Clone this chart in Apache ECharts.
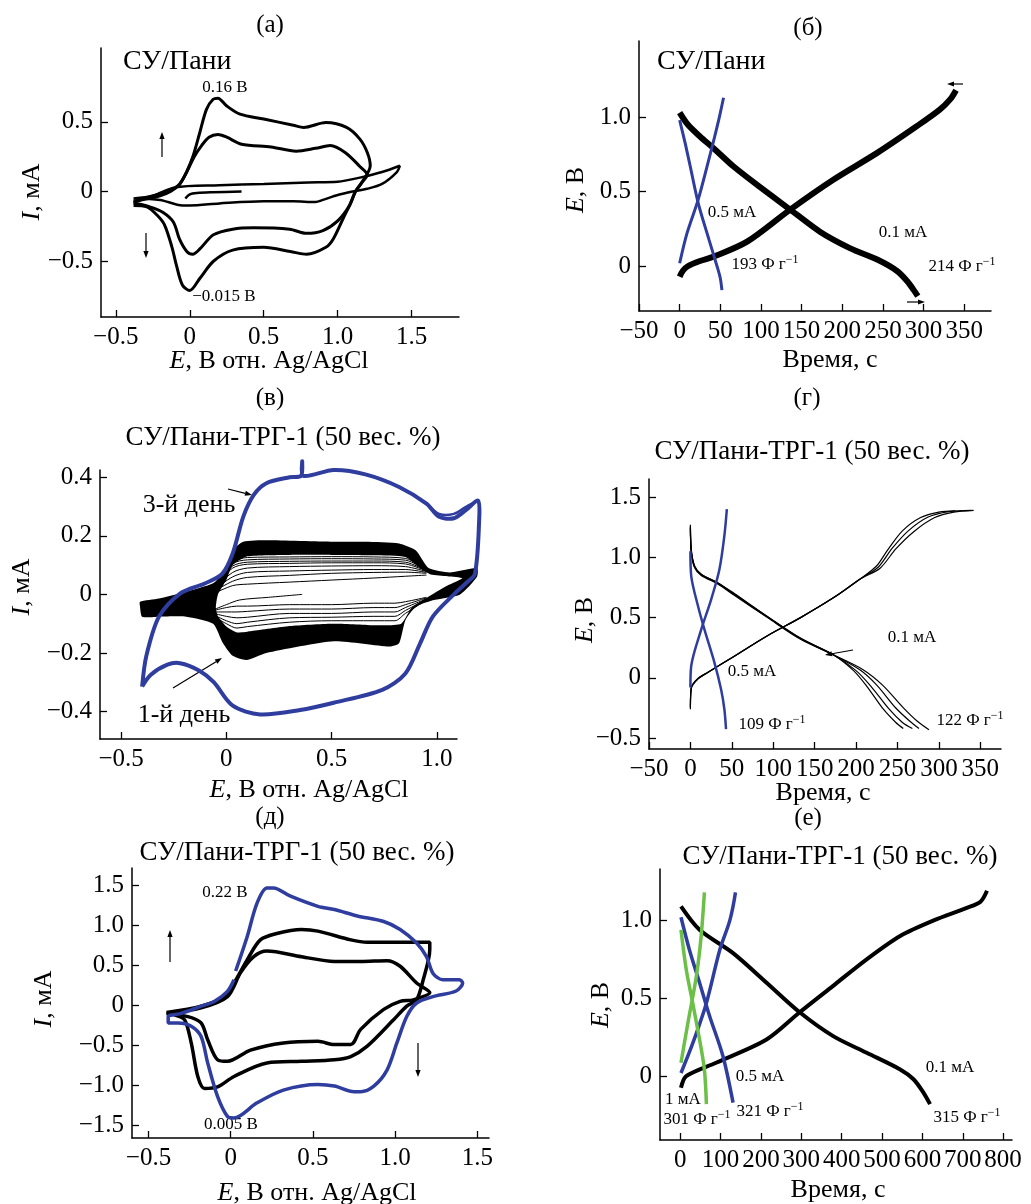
<!DOCTYPE html>
<html>
<head>
<meta charset="utf-8">
<script src="https://cdn.jsdelivr.net/npm/echarts@6/dist/echarts.min.js"></script>
<style>
html, body { margin: 0; padding: 0; background: #fff; }
#main { width: 1031px; height: 1204px; }
</style>
</head>
<body>
<div id="main"></div>
<script>
// ---- panel (а): CV, СУ/Пани
var aOuter = [[-0.38,-0.08],[-0.28,-0.04],[-0.2,-0.017],[-0.135,0.007],[-0.068,0.055],[-0.023,0.138],[0.023,0.257],[0.068,0.424],[0.113,0.59],[0.158,0.662],[0.19,0.67],[0.25,0.614],[0.34,0.555],[0.5,0.52],[0.7,0.476],[0.77,0.46],[0.92,0.495],[1.06,0.46],[1.15,0.376],[1.2,0.28],[1.22,0.186],[1.16,0.06],[1.12,0.0],[1.08,-0.1],[1.036,-0.195],[0.97,-0.34],[0.92,-0.4],[0.79,-0.45],[0.68,-0.43],[0.5,-0.4],[0.29,-0.42],[0.16,-0.5],[0.07,-0.62],[0.0,-0.71],[-0.05,-0.67],[-0.09,-0.53],[-0.12,-0.4],[-0.17,-0.24],[-0.22,-0.17],[-0.29,-0.11],[-0.38,-0.1]];
var aInner = [[-0.38,-0.07],[-0.2,-0.03],[-0.13,0.0],[-0.07,0.05],[-0.02,0.14],[0.03,0.25],[0.08,0.33],[0.13,0.39],[0.19,0.41],[0.25,0.39],[0.35,0.34],[0.55,0.32],[0.72,0.29],[0.85,0.31],[0.95,0.33],[1.05,0.28],[1.15,0.18],[1.2,0.12],[1.16,0.06],[1.12,0.0],[1.08,-0.1],[1.0,-0.21],[0.9,-0.28],[0.79,-0.3],[0.675,-0.27],[0.43,-0.26],[0.29,-0.27],[0.16,-0.31],[0.07,-0.41],[0.02,-0.45],[-0.02,-0.43],[-0.07,-0.34],[-0.11,-0.22],[-0.18,-0.15],[-0.27,-0.11],[-0.38,-0.08]];
var aThin = [[-0.38,-0.05],[-0.25,-0.03],[-0.1,0.03],[0.2,0.045],[0.5,0.055],[0.8,0.065],[1.0,0.07],[1.15,0.1],[1.3,0.14],[1.42,0.185],[1.4,0.14],[1.3,0.055],[1.2,0.02],[1.1,0.0],[1.0,-0.025],[0.9,-0.06],[0.85,-0.075],[0.7,-0.07],[0.5,-0.07],[0.2,-0.085],[0.0,-0.1],[-0.05,-0.1],[-0.2,-0.06],[-0.38,-0.05]];
var aShort = [[-0.03,-0.05],[0.0,-0.02],[0.05,-0.01],[0.15,-0.005],[0.35,0.0]];

// ---- panel (б): charge/discharge, СУ/Пани
var bBlackDis = [[0,1.03],[10,0.95],[25,0.87],[42,0.79],[66,0.67],[99,0.53],[136,0.38],[173,0.23],[210,0.12],[243,0.045],[267,-0.03],[280,-0.1],[288,-0.16],[293,-0.2]];
var bBlackCh = [[0,-0.07],[4,-0.03],[10,0.0],[25,0.035],[42,0.065],[83,0.165],[136,0.38],[189,0.58],[243,0.76],[292,0.94],[320,1.05],[333,1.12],[340,1.18]];
var bBlueDis = [[0,0.98],[7,0.82],[13,0.67],[23,0.42],[36,0.18],[46,0.0],[50,-0.08],[52,-0.16]];
var bBlueCh = [[0,0.02],[9,0.22],[23,0.45],[38,0.76],[48,0.98],[54,1.13]];

// ---- panel (в): CV cycling, 1-й / 3-й день
var vBlue = [[-0.4,-0.315],[-0.38,-0.21],[-0.32,-0.076],[-0.22,0.003],[-0.1,0.038],[-0.02,0.07],[0.03,0.14],[0.08,0.265],[0.13,0.34],[0.19,0.38],[0.3,0.4],[0.355,0.405],[0.36,0.455],[0.365,0.405],[0.51,0.425],[0.66,0.41],[0.82,0.367],[0.95,0.31],[1.01,0.265],[1.08,0.26],[1.14,0.29],[1.195,0.32],[1.2,0.25],[1.18,0.07],[1.14,0.04],[1.08,0.0],[0.98,-0.076],[0.92,-0.167],[0.85,-0.27],[0.74,-0.326],[0.51,-0.37],[0.35,-0.395],[0.16,-0.41],[0.03,-0.38],[-0.06,-0.3],[-0.13,-0.26],[-0.22,-0.235],[-0.28,-0.24],[-0.36,-0.275],[-0.4,-0.315]];
var vBlue2 = [[0.95,0.31],[1.01,0.275],[1.08,0.275],[1.14,0.3],[1.195,0.32]];
var vBlackOuter = [[-0.41,-0.025],[-0.32,-0.014],[-0.19,0.009],[-0.063,0.038],[0.0,0.077],[0.03,0.15],[0.08,0.18],[0.19,0.185],[0.51,0.18],[0.66,0.18],[0.82,0.174],[0.9,0.15],[0.96,0.09],[1.06,0.075],[1.19,0.09],[1.19,0.06],[1.11,0.0],[0.98,-0.02],[0.9,-0.042],[0.85,-0.088],[0.82,-0.167],[0.775,-0.178],[0.51,-0.16],[0.19,-0.2],[0.095,-0.224],[0.03,-0.21],[-0.016,-0.167],[-0.063,-0.1],[-0.19,-0.076],[-0.32,-0.076],[-0.4,-0.076],[-0.41,-0.042]];
var vHole = [[-0.05,-0.045],[-0.04,0.0],[0.0,0.05],[0.03,0.1],[0.1,0.13],[0.3,0.135],[0.5,0.135],[0.7,0.134],[0.85,0.128],[0.92,0.09],[0.97,0.068],[1.05,0.062],[1.12,0.055],[1.05,0.03],[0.95,-0.012],[0.88,-0.045],[0.83,-0.1],[0.7,-0.105],[0.5,-0.1],[0.3,-0.108],[0.12,-0.125],[0.05,-0.13],[0.0,-0.11],[-0.04,-0.075]];
var vAnodX = [-0.06, 0.03, 0.1, 0.3, 0.5, 0.7, 0.85, 0.95];
var vAnodY = [
    [0.003, 0.03, 0.035, 0.042, 0.049, 0.056, 0.062, 0.066],
    [0.01, 0.045, 0.058, 0.065, 0.072, 0.075, 0.076, 0.072],
    [0.015, 0.06, 0.075, 0.08, 0.083, 0.085, 0.085, 0.075],
    [0.02, 0.075, 0.09, 0.095, 0.097, 0.098, 0.095, 0.078],
    [0.025, 0.09, 0.103, 0.106, 0.108, 0.108, 0.104, 0.08],
    [0.028, 0.097, 0.11, 0.113, 0.114, 0.114, 0.11, 0.081],
    [0.03, 0.105, 0.118, 0.121, 0.122, 0.121, 0.117, 0.083],
    [0.032, 0.11, 0.126, 0.128, 0.129, 0.128, 0.123, 0.085]
];
var vCathX = [-0.06, 0.0, 0.05, 0.1, 0.3, 0.5, 0.7, 0.8, 0.85, 0.95];
var vCathY = [
    [-0.055, -0.045, -0.04, -0.04, -0.035, -0.035, -0.03, -0.03, -0.025, -0.01],
    [-0.06, -0.06, -0.06, -0.058, -0.05, -0.05, -0.045, -0.045, -0.035, -0.012],
    [-0.065, -0.075, -0.08, -0.078, -0.065, -0.065, -0.06, -0.06, -0.045, -0.015],
    [-0.07, -0.09, -0.1, -0.095, -0.08, -0.078, -0.075, -0.075, -0.055, -0.018],
    [-0.075, -0.1, -0.115, -0.11, -0.095, -0.09, -0.09, -0.09, -0.065, -0.02]
];
var vFirst = [[0.36,0.0],[0.2,-0.01],[0.063,-0.019],[0.0,-0.035],[-0.063,-0.053]];

// ---- panel (г): charge/discharge, СУ/Пани-ТРГ-1
var gBlackDis = [
    [[0,1.27],[1,1.07],[5,0.93],[13,0.86],[33,0.79],[53,0.7],[93,0.51],[133,0.33],[173,0.19],[197,0.06],[213,-0.07],[233,-0.26],[248,-0.37],[257,-0.42]],
    [[0,1.26],[1,1.06],[5,0.925],[13,0.86],[33,0.787],[53,0.695],[93,0.507],[133,0.327],[173,0.19],[200,0.06],[218,-0.07],[240,-0.26],[256,-0.37],[268,-0.42]],
    [[0,1.25],[1,1.05],[5,0.92],[13,0.855],[33,0.785],[53,0.69],[93,0.505],[133,0.325],[173,0.19],[205,0.065],[225,-0.06],[248,-0.25],[265,-0.36],[276,-0.42]],
    [[0,1.24],[1,1.04],[5,0.915],[13,0.85],[33,0.78],[53,0.685],[93,0.5],[133,0.32],[173,0.19],[208,0.07],[232,-0.06],[256,-0.24],[274,-0.36],[288,-0.43]]
];
var gBlackCh = [
    [[0,-0.26],[1,-0.09],[9,-0.01],[21,0.044],[53,0.18],[93,0.35],[133,0.5],[173,0.666],[205,0.82],[225,0.93],[238,1.06],[256,1.22],[278,1.33],[300,1.375],[320,1.385]],
    [[0,-0.25],[1,-0.085],[9,-0.008],[21,0.045],[53,0.18],[93,0.35],[133,0.5],[173,0.666],[205,0.82],[227,0.92],[243,1.07],[263,1.22],[287,1.335],[312,1.38],[339,1.39]],
    [[0,-0.24],[1,-0.08],[9,-0.005],[21,0.046],[53,0.18],[93,0.35],[133,0.5],[173,0.666],[205,0.82],[229,0.91],[248,1.07],[270,1.215],[295,1.33],[318,1.375],[342,1.39]]
];
var gBlueDis = [[0,1.05],[1,0.845],[9,0.6],[17,0.4],[29,0.127],[37,-0.094],[41,-0.26],[43,-0.425]];
var gBlueCh = [[0,-0.08],[1,0.1],[13,0.4],[25,0.65],[35,0.9],[41,1.18],[44,1.4]];

// ---- panel (д): CV, СУ/Пани-ТРГ-1
var dBlue = [[0.03,0.43],[0.1,0.86],[0.16,1.28],[0.22,1.47],[0.26,1.47],[0.36,1.37],[0.53,1.24],[0.63,1.2],[0.77,1.12],[0.93,1.05],[1.03,0.95],[1.13,0.78],[1.19,0.61],[1.23,0.4],[1.29,0.32],[1.39,0.32],[1.41,0.28],[1.37,0.18],[1.23,0.11],[1.13,0.03],[1.07,-0.14],[1.01,-0.47],[0.95,-0.81],[0.87,-1.01],[0.79,-1.08],[0.75,-1.08],[0.63,-1.01],[0.53,-0.99],[0.32,-1.06],[0.16,-1.22],[0.02,-1.41],[-0.02,-1.39],[-0.08,-1.14],[-0.14,-0.72],[-0.18,-0.39],[-0.24,-0.26],[-0.32,-0.22],[-0.38,-0.22],[-0.38,-0.14],[-0.3,-0.1],[-0.18,-0.01],[-0.1,0.05],[-0.02,0.175],[0.02,0.32]];
var dBlack1 = [[-0.39,-0.09],[-0.18,-0.01],[-0.04,0.11],[0.02,0.28],[0.1,0.57],[0.18,0.82],[0.28,0.9],[0.43,0.95],[0.53,0.93],[0.73,0.82],[0.83,0.79],[1.21,0.79],[1.21,0.7],[1.17,0.32],[1.13,0.07],[1.07,-0.01],[0.99,-0.18],[0.83,-0.51],[0.73,-0.64],[0.63,-0.68],[0.43,-0.7],[0.22,-0.72],[0.02,-0.89],[-0.08,-1.02],[-0.16,-1.04],[-0.2,-0.89],[-0.24,-0.47],[-0.28,-0.18],[-0.34,-0.12],[-0.39,-0.09]];
var dBlack2 = [[-0.39,-0.1],[-0.18,-0.03],[-0.02,0.11],[0.06,0.41],[0.14,0.61],[0.22,0.68],[0.43,0.61],[0.63,0.55],[0.79,0.55],[0.95,0.56],[1.03,0.49],[1.13,0.28],[1.21,0.16],[1.11,0.07],[1.03,0.05],[0.93,-0.05],[0.79,-0.3],[0.73,-0.49],[0.63,-0.49],[0.53,-0.45],[0.32,-0.47],[0.12,-0.56],[-0.02,-0.7],[-0.08,-0.68],[-0.14,-0.43],[-0.18,-0.22],[-0.26,-0.14],[-0.39,-0.1]];

// ---- panel (е): charge/discharge at 0.1, 0.5, 1 мА
var eBlackDis = [[2,1.09],[48,0.94],[131,0.79],[214,0.6],[296,0.41],[379,0.257],[462,0.15],[545,0.043],[578,-0.02],[603,-0.107],[619,-0.18]];
var eBlackCh = [[2,-0.075],[15,0.0],[89,0.086],[214,0.235],[296,0.41],[379,0.58],[462,0.75],[545,0.9],[628,1.0],[710,1.08],[744,1.12],[760,1.19]];
var eBlueDis = [[2,1.02],[23,0.81],[48,0.6],[73,0.385],[106,0.128],[131,-0.17]];
var eBlueCh = [[2,0.02],[31,0.21],[65,0.47],[98,0.81],[123,1.0],[137,1.18]];
var eGreenDis = [[2,0.94],[15,0.685],[31,0.47],[48,0.235],[60,0.043],[65,-0.18]];
var eGreenCh = [[2,0.086],[19,0.34],[40,0.64],[52,0.9],[60,1.18]];

// ---- tick values
var cvXTicks = [-0.5, 0, 0.5, 1, 1.5];
var cvXTicksV = [-0.5, 0, 0.5, 1];
var aYTicks = [-0.5, 0, 0.5];
var vYTicks = [-0.4, -0.2, 0, 0.2, 0.4];
var dYTicks = [-1.5, -1, -0.5, 0, 0.5, 1, 1.5];
var timeTicks = [-50, 0, 50, 100, 150, 200, 250, 300, 350];
var eTimeTicks = [0, 100, 200, 300, 400, 500, 600, 700, 800];
var eYTicks = [0, 0.5, 1];
var gYTicks = [-0.5, 0, 0.5, 1, 1.5];

var BLUE = '#2e3d9e';
var GREEN = '#6cbf47';
var FONT = '"Liberation Serif", "DejaVu Serif", serif';

function fmtDec(v) {
    if (v === 0) return '0';
    return v.toFixed(1).replace('-', '\u2212');
}
function fmtInt(v) {
    return String(v).replace('-', '\u2212');
}

var grids = [
    { left: 101, top: 48, width: 358, height: 269 },
    { left: 639, top: 41, width: 352, height: 270 },
    { left: 100, top: 470, width: 357, height: 269 },
    { left: 649, top: 479, width: 352, height: 270 },
    { left: 132, top: 868, width: 357, height: 270 },
    { left: 660, top: 869, width: 352, height: 271 }
];

function axis(idx, min, max, ticks, fmt) {
    return {
        type: 'value',
        gridIndex: idx,
        min: min,
        max: max,
        axisLine: { show: true, onZero: false, lineStyle: { color: '#000', width: 1.5 } },
        axisTick: { show: true, inside: true, length: 7, customValues: ticks, lineStyle: { color: '#000', width: 1.3 } },
        axisLabel: { show: true, customValues: ticks, formatter: fmt, color: '#000', fontFamily: FONT, fontSize: 25, margin: 8 },
        splitLine: { show: false }
    };
}

var xAxes = [
    axis(0, -0.6, 1.82, cvXTicks, fmtDec),
    axis(1, -50, 383, timeTicks, fmtInt),
    axis(2, -0.6, 1.095, cvXTicksV, fmtDec),
    axis(3, -50, 375, timeTicks, fmtInt),
    axis(4, -0.6, 1.57, cvXTicks, fmtDec),
    axis(5, -50, 822, eTimeTicks, fmtInt)
];
var yAxes = [
    axis(0, -0.9, 1.03, aYTicks, fmtDec),
    axis(1, -0.3, 1.51, [0, 0.5, 1], fmtDec),
    axis(2, -0.494, 0.425, vYTicks, fmtDec),
    axis(3, -0.59, 1.65, gYTicks, fmtDec),
    axis(4, -1.66, 1.72, dYTicks, fmtDec),
    axis(5, -0.41, 1.33, eYTicks, fmtDec)
];

function line(idx, data, color, width, z) {
    return {
        type: 'line', xAxisIndex: idx, yAxisIndex: idx, data: data,
        symbol: 'none', showSymbol: false, smooth: 0.3, silent: true, clip: false,
        lineStyle: { color: color, width: width },
        z: z || 3
    };
}
// custom shapes are not clipped to the grid, so the (в) loops can run past the axis end
function poly(idx, pts, color, z) {
    return {
        type: 'custom', xAxisIndex: idx, yAxisIndex: idx, data: [[0, 0]], silent: true, z: z,
        renderItem: function (params, api) {
            return {
                type: 'polygon',
                shape: { points: pts.map(function (p) { return api.coord(p); }), smooth: 0.2 },
                style: { fill: color }
            };
        }
    };
}
function curve(idx, pts, color, width, z) {
    return {
        type: 'custom', xAxisIndex: idx, yAxisIndex: idx, data: [[0, 0]], silent: true, z: z,
        renderItem: function (params, api) {
            return {
                type: 'polyline',
                shape: { points: pts.map(function (p) { return api.coord(p); }), smooth: 0.3 },
                style: { stroke: color, lineWidth: width, fill: null }
            };
        }
    };
}
function pairs(xs, ys) {
    return xs.map(function (x, i) { return [x, ys[i]]; });
}

var series = [
    line(0, aOuter, '#000', 3), line(0, aInner, '#000', 3), line(0, aThin, '#000', 2.5), line(0, aShort, '#000', 2.5),
    line(1, bBlackDis, '#000', 6), line(1, bBlackCh, '#000', 6), line(1, bBlueDis, BLUE, 3), line(1, bBlueCh, BLUE, 3),
    poly(2, vBlackOuter, '#000', 1), poly(2, vHole, '#fff', 2), line(2, vFirst, '#000', 1, 3)
];
vAnodY.forEach(function (ys) { series.push(line(2, pairs(vAnodX, ys), '#000', 1, 3)); });
vCathY.forEach(function (ys) { series.push(line(2, pairs(vCathX, ys), '#000', 1, 3)); });
series.push(curve(2, vBlue, BLUE, 4, 5), curve(2, vBlue2, BLUE, 2.5, 5));
gBlackDis.forEach(function (d) { series.push(line(3, d, '#000', 1.2)); });
gBlackCh.forEach(function (d) { series.push(line(3, d, '#000', 1.2)); });
series.push(line(3, gBlueDis, BLUE, 2.5), line(3, gBlueCh, BLUE, 2.5));
series.push(line(4, dBlack1, '#000', 3.5), line(4, dBlack2, '#000', 3.5), line(4, dBlue, BLUE, 3.5, 4));
series.push(line(5, eBlackDis, '#000', 4), line(5, eBlackCh, '#000', 4),
    line(5, eBlueDis, BLUE, 3.5), line(5, eBlueCh, BLUE, 3.5),
    line(5, eGreenDis, GREEN, 3.5), line(5, eGreenCh, GREEN, 3.5));

// ---- texts and arrows (pixel layout)
var RICH = {
    n: { fontFamily: FONT, fontSize: 17, color: '#000' },
    s: { fontFamily: FONT, fontSize: 12, color: '#000', verticalAlign: 'top', padding: [0, 0, 10, 0] },
    i: { fontFamily: FONT, fontSize: 26, fontStyle: 'italic', color: '#000' },
    t: { fontFamily: FONT, fontSize: 26, color: '#000' }
};
function txt(x, y, text, size, align) {
    return {
        type: 'text', x: x, y: y, silent: true,
        style: { text: text, x: 0, y: 0, fill: '#000', fontFamily: FONT, fontSize: size, align: align || 'center', verticalAlign: 'middle' }
    };
}
function cap(x, y, num) {
    return {
        type: 'text', x: x, y: y, silent: true,
        style: { text: '{n|' + num + ' Ф г}{s|\u22121}', rich: RICH, x: 0, y: 0, align: 'center', verticalAlign: 'middle' }
    };
}
function axName(x, y, letter, rest, rot) {
    return {
        type: 'text', x: x, y: y, rotation: rot ? Math.PI / 2 : 0, silent: true,
        style: { text: '{i|' + letter + '}{t|' + rest + '}', rich: RICH, x: 0, y: 0, align: 'center', verticalAlign: 'middle' }
    };
}
function arrow(x1, y1, x2, y2) {
    var a = Math.atan2(y2 - y1, x2 - x1), s = 7, w = 2.6;
    var bx = x2 - s * Math.cos(a), by = y2 - s * Math.sin(a);
    return [
        { type: 'line', silent: true, shape: { x1: x1, y1: y1, x2: bx, y2: by }, style: { stroke: '#000', lineWidth: 1.2 } },
        { type: 'polygon', silent: true, shape: { points: [[x2, y2], [bx + w * Math.sin(a), by - w * Math.cos(a)], [bx - w * Math.sin(a), by + w * Math.cos(a)]] }, style: { fill: '#000' } }
    ];
}

var SUB = 'СУ/Пани-ТРГ-1 (50 вес. %)';
var graphics = [
    txt(270, 25, '(а)', 25), txt(808, 28, '(б)', 25), txt(270, 398, '(в)', 25),
    txt(807, 398, '(г)', 25), txt(270, 817, '(д)', 25), txt(808, 818, '(е)', 25),
    txt(123, 62, 'СУ/Пани', 28, 'left'), txt(657, 62, 'СУ/Пани', 28, 'left'),
    txt(283, 438, SUB, 27), txt(812, 452, SUB, 27), txt(297, 853, SUB, 27), txt(840, 857, SUB, 27),
    txt(225, 88, '0.16 В', 17), txt(224, 297, '\u22120.015 В', 17),
    txt(732, 213, '0.5 мА', 17), cap(765, 265, '193'), txt(903, 233, '0.1 мА', 17), cap(962, 267, '214'),
    txt(189, 505, '3-й день', 26), txt(184, 715, '1-й день', 26),
    txt(912, 638, '0.1 мА', 17), txt(752, 672, '0.5 мА', 17), cap(772, 725, '109'), cap(970, 721, '122'),
    txt(225, 893, '0.22 В', 17), txt(231, 1125, '0.005 В', 17),
    txt(760, 1077, '0.5 мА', 17), txt(683, 1100, '1 мА', 17), cap(697, 1120, '301'), cap(770, 1112, '321'),
    txt(950, 1068, '0.1 мА', 17), cap(967, 1118, '315'),
    axName(269, 361, 'E', ', В отн. Ag/AgCl'), axName(830, 360, '', 'Время, с'),
    axName(309, 790, 'E', ', В отн. Ag/AgCl'), axName(823, 793, '', 'Время, с'),
    axName(317, 1193, 'E', ', В отн. Ag/AgCl'), axName(838, 1190, '', 'Время, с'),
    axName(32, 192, 'I', ', мА', true), axName(576, 190, 'E', ', В', true),
    axName(22, 587, 'I', ', мА', true), axName(585, 620, 'E', ', В', true),
    axName(44, 999, 'I', ', мА', true), axName(601, 1005, 'E', ', В', true)
];
graphics = graphics.concat(
    arrow(162, 157, 162, 132), arrow(146, 233, 146, 258),
    arrow(963, 84, 947, 84), arrow(907, 302, 925, 302),
    arrow(228, 489, 252, 495), arrow(173, 688, 222, 658),
    arrow(853, 650, 825, 655),
    arrow(170, 962, 170, 930), arrow(418, 1043, 418, 1077)
);

var myChart = echarts.init(document.getElementById('main'));
var option = {
    animation: false,
    backgroundColor: '#fff',
    grid: grids,
    xAxis: xAxes,
    yAxis: yAxes,
    series: series,
    graphic: { elements: graphics }
};
myChart.setOption(option);
</script>
</body>
</html>
